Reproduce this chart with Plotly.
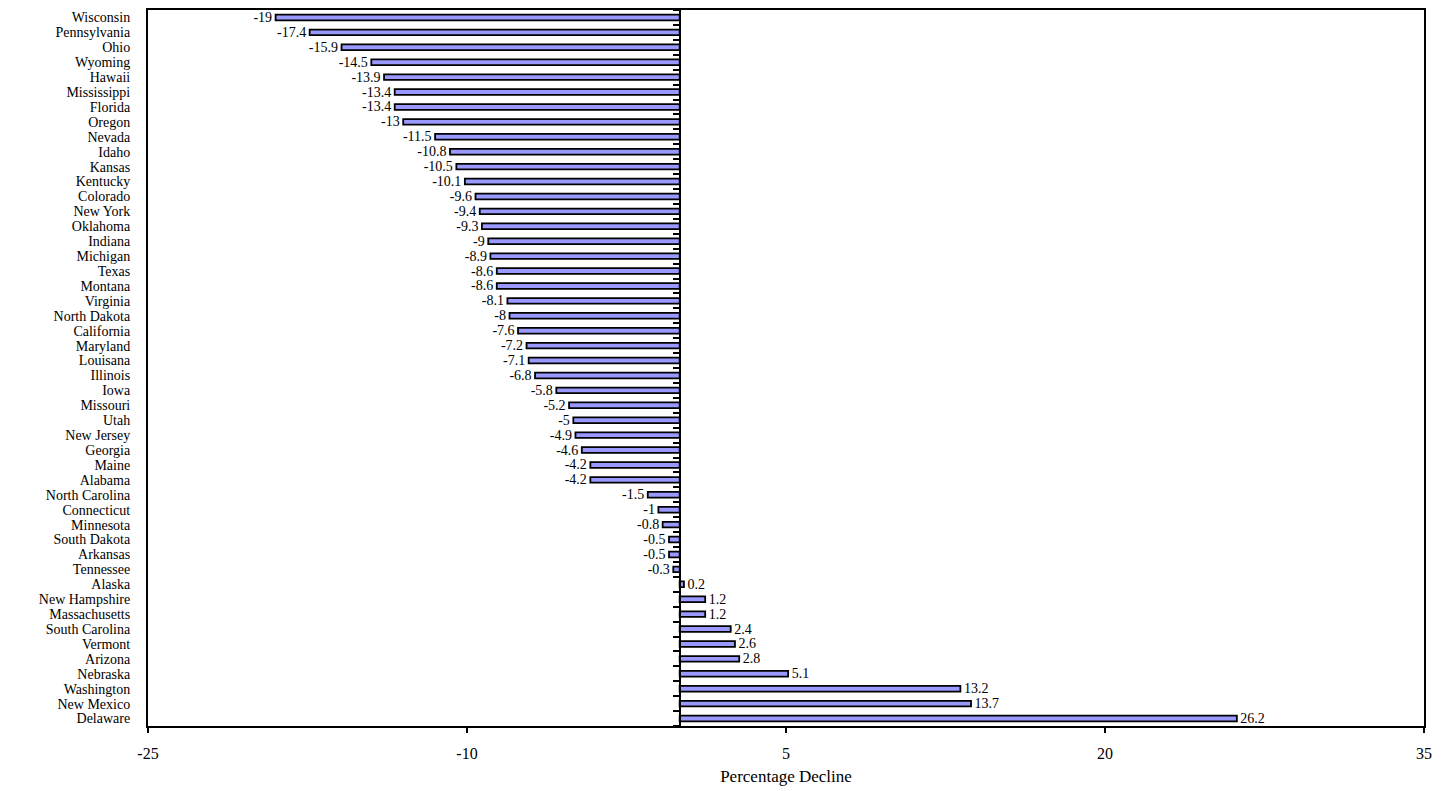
import plotly.graph_objects as go

states = ["Wisconsin", "Pennsylvania", "Ohio", "Wyoming", "Hawaii", "Mississippi", "Florida",
          "Oregon", "Nevada", "Idaho", "Kansas", "Kentucky", "Colorado", "New York", "Oklahoma",
          "Indiana", "Michigan", "Texas", "Montana", "Virginia", "North Dakota", "California",
          "Maryland", "Louisana", "Illinois", "Iowa", "Missouri", "Utah", "New Jersey", "Georgia",
          "Maine", "Alabama", "North Carolina", "Connecticut", "Minnesota", "South Dakota",
          "Arkansas", "Tennessee", "Alaska", "New Hampshire", "Massachusetts", "South Carolina",
          "Vermont", "Arizona", "Nebraska", "Washington", "New Mexico", "Delaware"]
values = [-19, -17.4, -15.9, -14.5, -13.9, -13.4, -13.4, -13, -11.5, -10.8, -10.5, -10.1, -9.6,
          -9.4, -9.3, -9, -8.9, -8.6, -8.6, -8.1, -8, -7.6, -7.2, -7.1, -6.8, -5.8, -5.2, -5, -4.9,
          -4.6, -4.2, -4.2, -1.5, -1, -0.8, -0.5, -0.5, -0.3, 0.2, 1.2, 1.2, 2.4, 2.6, 2.8, 5.1,
          13.2, 13.7, 26.2]
x_ticks = [-25, -10, 5, 20, 35]
x_tick_labels = ["-25", "-10", "5", "20", "35"]

FONT = "Times New Roman, Liberation Serif, serif"
NB = "\u00a0"
n = len(states)

labels = [("%g" % v) + NB if v < 0 else NB + ("%g" % v) for v in values]

fig = go.Figure()
fig.add_trace(go.Bar(
    x=values, y=states, orientation="h",
    text=labels, textposition="outside", constraintext="none",
    textfont=dict(family=FONT, size=14, color="black"),
    marker=dict(color="#9999FF", line=dict(color="black", width=1.8)),
    width=0.38, cliponaxis=False, showlegend=False, hoverinfo="x+y",
))
# invisible trace to activate the zero-line category tick axis
fig.add_trace(go.Scatter(x=[0, 0], y=[-0.5, n - 0.5], yaxis="y2", mode="lines",
                         line=dict(width=0, color="rgba(0,0,0,0)"), showlegend=False,
                         hoverinfo="skip"))

fig.update_layout(
    width=1449, height=791,
    margin=dict(l=148, r=25, t=8, b=63),
    plot_bgcolor="white", paper_bgcolor="white",
    font=dict(family=FONT, size=16, color="black"),
    xaxis=dict(range=[-25, 35], tickvals=x_ticks, ticktext=x_tick_labels,
               ticks="outside", ticklen=5, tickwidth=1.5, tickcolor="black",
               ticklabelstandoff=7,
               showgrid=False, zeroline=False, showline=True, mirror=True,
               linecolor="black", linewidth=2,
               tickfont=dict(family=FONT, size=16),
               title=dict(text="Percentage Decline", font=dict(family=FONT, size=17), standoff=9)),
    yaxis=dict(type="category", categoryorder="array", categoryarray=states,
               tickmode="array", tickvals=states, ticktext=states,
               range=[n - 0.5, -0.5], showgrid=False, zeroline=False,
               showline=True, mirror=True, linecolor="black", linewidth=2,
               ticks="", ticklabelstandoff=13, tickfont=dict(family=FONT, size=14)),
    yaxis2=dict(overlaying="y", anchor="free", position=25 / 60, side="left",
                range=[n - 0.5, -0.5], showgrid=False, zeroline=False,
                showline=True, linecolor="black", linewidth=2,
                ticks="outside", ticklen=6, tickwidth=2, tickcolor="black",
                tickvals=[i + 0.5 for i in range(-1, n)], showticklabels=False),
)

fig.write_html("out.html")
